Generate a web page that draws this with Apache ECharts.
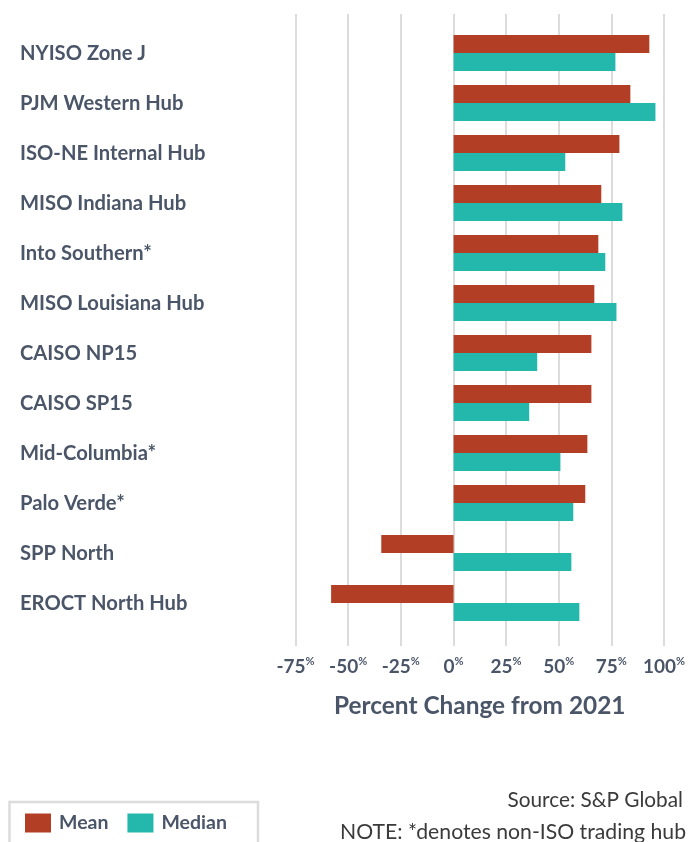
<!DOCTYPE html>
<html>
<head>
<meta charset="utf-8">
<script src="https://cdn.jsdelivr.net/npm/echarts@6/dist/echarts.min.js"></script>
<style>
  html, body { margin: 0; padding: 0; background: #fff; }
  #main { width: 688px; height: 842px; }
</style>
</head>
<body>
<div id="main"></div>
<script>
var hubs = [
  "NYISO Zone J", "PJM Western Hub", "ISO-NE Internal Hub", "MISO Indiana Hub",
  "Into Southern*", "MISO Louisiana Hub", "CAISO NP15", "CAISO SP15",
  "Mid-Columbia*", "Palo Verde*", "SPP North", "EROCT North Hub"
];
var meanChange = [92.9, 83.9, 78.7, 70.1, 68.7, 66.8, 65.4, 65.4, 63.5, 62.5, -34.3, -58.1];
var medianChange = [76.8, 95.8, 53.0, 80.1, 72.0, 77.3, 39.7, 35.9, 50.7, 56.8, 55.9, 59.7];
var xTicks = [-75, -50, -25, 0, 25, 50, 75, 100];

var font = "Lato";
var labelColor = "#4a5568";

var chart = echarts.init(document.getElementById("main"));

var option = {
  backgroundColor: "#fff",
  animation: false,
  grid: [
    // grid 0 only carries the vertical gridlines + tick labels
    { left: 295.5, width: 368.8, top: 14, height: 632 },
    // grid 1 holds the bars
    { left: 295.5, width: 368.8, top: 28, height: 600 }
  ],
  legend: {
    left: 25,
    top: 813,
    padding: 0,
    itemWidth: 26,
    itemHeight: 19,
    itemGap: 19,
    icon: "rect",
    textStyle: { fontFamily: font, fontSize: 19.5, fontWeight: "bold", color: labelColor, padding: [0, 0, 0, 3] },
    data: ["Mean", "Median"]
  },
  xAxis: [
    {
      gridIndex: 0,
      type: "value",
      min: xTicks[0],
      max: xTicks[xTicks.length - 1],
      interval: 25,
      axisLine: { show: false },
      axisTick: { show: false },
      splitLine: { show: true, lineStyle: { color: "#dcdcdc", width: 2 } },
      axisLabel: {
        margin: 10,
        formatter: function (v) { return "{n|" + v + "}{p|%}"; },
        rich: {
          n: { fontFamily: font, fontSize: 19, fontWeight: "bold", color: labelColor },
          p: { fontFamily: font, fontSize: 11, fontWeight: "bold", color: labelColor, padding: [0, 0, 10, 0] }
        }
      },
      name: "Percent Change from 2021",
      nameLocation: "middle",
      nameGap: 48,
      nameTextStyle: { fontFamily: font, fontSize: 24.4, fontWeight: "bold", color: labelColor }
    },
    {
      gridIndex: 1,
      type: "value",
      min: xTicks[0],
      max: xTicks[xTicks.length - 1],
      interval: 25,
      show: false
    }
  ],
  yAxis: [
    { gridIndex: 0, type: "value", show: false },
    {
      gridIndex: 1,
      type: "category",
      data: hubs,
      inverse: true,
      axisLine: { show: false },
      axisTick: { show: false },
      splitLine: { show: false },
      axisLabel: {
        align: "left",
        margin: 275.5,
        fontFamily: font,
        fontSize: 20.2,
        fontWeight: "bold",
        color: labelColor
      }
    }
  ],
  series: [
    {
      name: "Mean",
      type: "bar",
      xAxisIndex: 1,
      yAxisIndex: 1,
      data: meanChange,
      barWidth: 18,
      barGap: "0%",
      itemStyle: { color: "#b33e26" }
    },
    {
      name: "Median",
      type: "bar",
      xAxisIndex: 1,
      yAxisIndex: 1,
      data: medianChange,
      barWidth: 18,
      barGap: "0%",
      itemStyle: { color: "#23b8ab" }
    }
  ],
  graphic: [
    {
      type: "rect",
      shape: { x: 9.5, y: 802, width: 248.5, height: 60 },
      style: { fill: "none", stroke: "#dcdcdc", lineWidth: 2.5 },
      z: -1
    },
    {
      type: "text",
      right: 5,
      top: 790,
      style: { text: "Source: S&P Global", fontFamily: font, fontSize: 20.8, fill: "#3a3a3a", textAlign: "right" }
    },
    {
      type: "text",
      right: 2,
      top: 822,
      style: { text: "NOTE: *denotes non-ISO trading hub", fontFamily: font, fontSize: 21.2, fill: "#3a3a3a", textAlign: "right" }
    }
  ]
};

chart.setOption(option);
window.addEventListener("resize", function () {
  chart.resize();
});
</script>
</body>
</html>
